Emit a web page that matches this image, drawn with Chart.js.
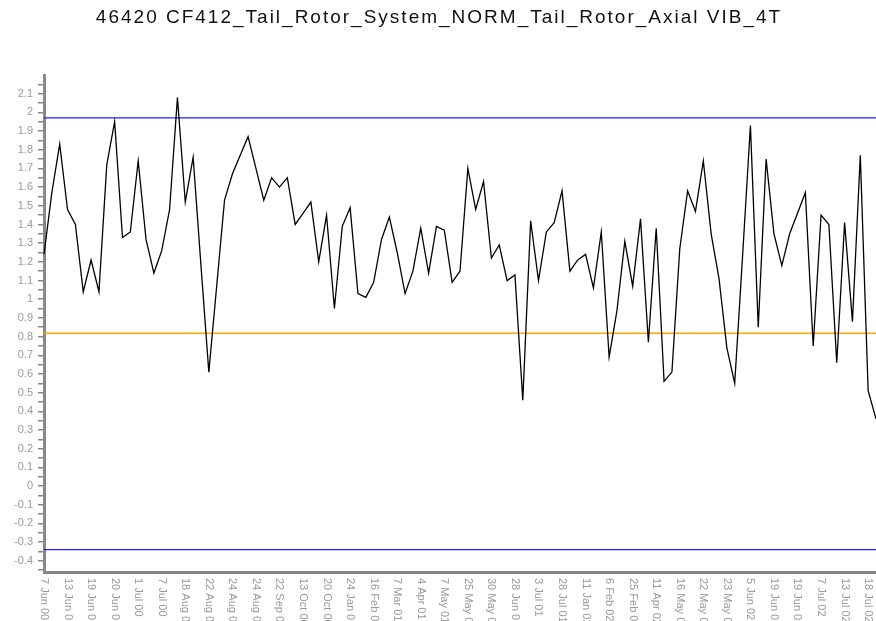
<!DOCTYPE html>
<html>
<head>
<meta charset="utf-8">
<title>46420 CF412 Tail Rotor Axial VIB</title>
<script src="https://cdn.jsdelivr.net/npm/chart.js@4.4.1/dist/chart.umd.min.js"></script>
<style>
  html, body { margin: 0; padding: 0; background: #fff; }
  #wrap { width: 876px; height: 621px; position: relative; }
</style>
</head>
<body>
<div id="wrap"><canvas id="chart"></canvas></div>
<script>
const chartTitle = '46420 CF412_Tail_Rotor_System_NORM_Tail_Rotor_Axial VIB_4T';

// every third point carries a date label
const tickLabels = [
  '7 Jun 00', '13 Jun 00', '19 Jun 00', '20 Jun 00', '1 Jul 00', '7 Jul 00',
  '18 Aug 00', '22 Aug 00', '24 Aug 00', '24 Aug 00', '22 Sep 00', '13 Oct 00',
  '20 Oct 00', '24 Jan 01', '16 Feb 01', '7 Mar 01', '4 Apr 01', '7 May 01',
  '25 May 01', '30 May 01', '28 Jun 01', '3 Jul 01', '28 Jul 01', '11 Jan 02',
  '6 Feb 02', '25 Feb 02', '11 Apr 02', '16 May 02', '22 May 02', '23 May 02',
  '5 Jun 02', '19 Jun 02', '19 Jun 02', '7 Jul 02', '13 Jul 02', '18 Jul 02'
];

const vibValues = [
  1.24, 1.57, 1.83, 1.48, 1.40, 1.04, 1.21, 1.04, 1.72, 1.95,
  1.33, 1.36, 1.74, 1.32, 1.14, 1.26, 1.48, 2.08, 1.52, 1.76,
  1.18, 0.61, 1.07, 1.53, 1.67, 1.77, 1.87, 1.70, 1.53, 1.65,
  1.60, 1.65, 1.40, 1.46, 1.52, 1.20, 1.45, 0.95, 1.39, 1.49,
  1.03, 1.01, 1.09, 1.32, 1.44, 1.25, 1.03, 1.15, 1.38, 1.14,
  1.39, 1.37, 1.09, 1.15, 1.70, 1.48, 1.63, 1.22, 1.29, 1.10,
  1.13, 0.46, 1.42, 1.10, 1.36, 1.41, 1.58, 1.15, 1.21, 1.24,
  1.06, 1.36, 0.69, 0.94, 1.31, 1.07, 1.43, 0.77, 1.38, 0.56,
  0.61, 1.27, 1.58, 1.47, 1.74, 1.35, 1.11, 0.74, 0.55, 1.23,
  1.93, 0.85, 1.75, 1.35, 1.18, 1.35, 1.46, 1.57, 0.75, 1.45,
  1.40, 0.66, 1.41, 0.88, 1.77, 0.51, 0.36
];

const upperLimit = 1.97;
const meanLevel = 0.818;
const lowerLimit = -0.34;

const yMin = -0.46;
const yMax = 2.2;

const labels = vibValues.map((_, i) => (i % 3 === 0 ? tickLabels[i / 3] : ''));
const flat = v => labels.map(() => v);

const axisGrey = '#878787';
const textGrey = '#999999';
const fontFamily = '"Liberation Sans", Arial, sans-serif';

// title is spaced out a little, and x labels read top-to-bottom,
// neither of which chart.js does on its own
const extraText = {
  id: 'extraText',
  afterDraw(chart) {
    const ctx = chart.ctx;
    const x = chart.scales.x;

    ctx.save();
    ctx.fillStyle = '#111';
    ctx.font = '19px ' + fontFamily;
    ctx.letterSpacing = '2px';
    ctx.textAlign = 'center';
    ctx.textBaseline = 'middle';
    ctx.fillText(chartTitle, chart.width / 2 + 1, 18);
    ctx.restore();

    ctx.save();
    ctx.fillStyle = textGrey;
    ctx.font = '11px ' + fontFamily;
    ctx.textAlign = 'left';
    ctx.textBaseline = 'middle';
    tickLabels.forEach((txt, k) => {
      const px = x.getPixelForValue(k * 3);
      ctx.save();
      ctx.translate(px, x.top + 6);
      ctx.rotate(Math.PI / 2);
      ctx.fillText(txt, 0, 0);
      ctx.restore();
    });
    ctx.restore();
  }
};

new Chart(document.getElementById('chart'), {
  type: 'line',
  data: {
    labels,
    datasets: [
      {
        data: vibValues,
        borderColor: '#000',
        borderWidth: 1.3,
        pointRadius: 0,
        tension: 0
      },
      {
        data: flat(upperLimit),
        borderColor: '#1f1fff',
        borderWidth: 1.2,
        pointRadius: 0
      },
      {
        data: flat(meanLevel),
        borderColor: '#ffa500',
        borderWidth: 1.4,
        pointRadius: 0
      },
      {
        data: flat(lowerLimit),
        borderColor: '#1f1fff',
        borderWidth: 1.2,
        pointRadius: 0
      }
    ]
  },
  options: {
    responsive: true,
    maintainAspectRatio: false,
    animation: false,
    layout: { padding: { top: 75, right: 0, bottom: 0, left: 0 } },
    plugins: {
      legend: { display: false },
      tooltip: { enabled: false },
      title: { display: false }
    },
    scales: {
      x: {
        offset: false,
        grid: { display: false },
        border: { display: true, color: axisGrey, width: 3 },
        ticks: { display: false, autoSkip: false },
        afterFit: s => { s.height = 49; }
      },
      y: {
        min: yMin,
        max: yMax,
        grid: { drawOnChartArea: false, drawTicks: true, tickLength: 6, color: axisGrey, lineWidth: 1.5 },
        border: { display: true, color: axisGrey, width: 3 },
        afterBuildTicks: s => {
          const t = [];
          for (let k = -9; k <= 43; k++) t.push({ value: k * 0.05 });
          s.ticks = t;
        },
        ticks: {
          autoSkip: false,
          color: textGrey,
          padding: 5,
          font: { family: fontFamily, size: 11 },
          callback: v => {
            const r = Math.round(v * 100);
            if (r % 10 !== 0) return '';
            return String(r / 100);
          }
        },
        afterFit: s => { s.width = 44; }
      }
    }
  },
  plugins: [extraText]
});
</script>
</body>
</html>
